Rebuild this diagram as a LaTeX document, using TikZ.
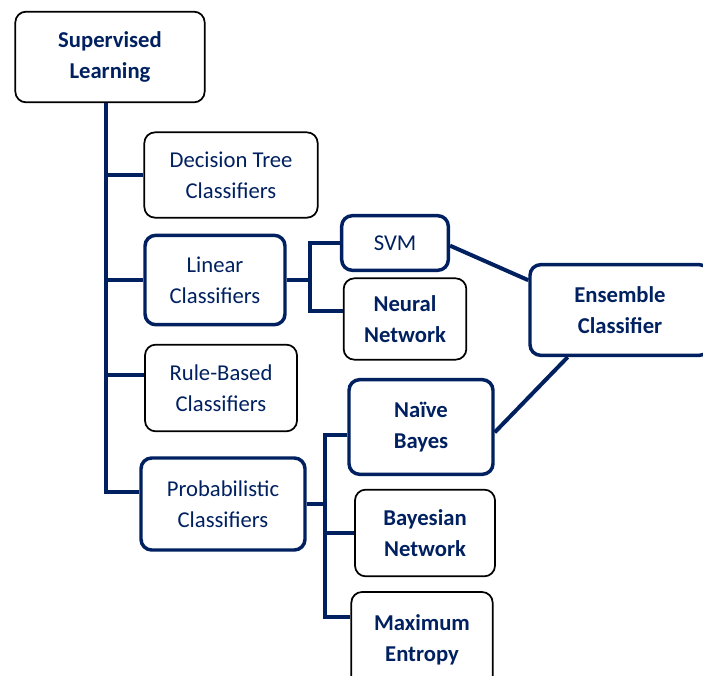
\documentclass[tikz,border=0pt]{standalone}
\usepackage{fontspec}
\setmainfont{Carlito}
\definecolor{navy}{RGB}{0,32,96}
\begin{document}
\begin{tikzpicture}[x=0.75pt, y=-0.75pt,
        box/.style = {rounded corners = 8pt, align = center, text = navy, inner sep = 0pt,
                      font = \fontsize{17}{23}\selectfont},
        strong/.style = {font = \fontsize{17}{23}\selectfont\bfseries},
        thinbox/.style = {box, draw = black, line width = 1.3pt},
        thickbox/.style = {box, draw = navy, line width = 2.6pt},
        link/.style = {draw = navy, line width = 3pt}]
        \useasboundingbox (0,0) rectangle (703,675);
        % root and first level
        \node[thinbox, strong, minimum width = 142pt, minimum height = 68pt] (sup) at (110,57) {Supervised\\Learning};
        \node[thinbox, minimum width = 130pt, minimum height = 64pt] (dtree) at (231,175) {Decision Tree\\Classifiers};
        \node[thickbox, minimum width = 105pt, minimum height = 67pt] (linear) at (215,280) {Linear\\Classifiers};
        \node[thinbox, minimum width = 114pt, minimum height = 65pt] (rule) at (221,388) {Rule-Based\\Classifiers};
        \node[thickbox, minimum width = 123pt, minimum height = 69pt] (prob) at (223,504) {Probabilistic\\Classifiers};
        % second level
        \node[thickbox, minimum width = 80pt, minimum height = 41pt] (svm) at (395,243) {SVM};
        \node[thinbox, strong, minimum width = 92pt, minimum height = 61pt] (nn) at (405,319) {Neural\\Network};
        \node[thickbox, strong, minimum width = 108pt, minimum height = 71pt] (nb) at (421,427) {Naïve\\Bayes};
        \node[thinbox, strong, minimum width = 105pt, minimum height = 65pt] (bn) at (425,533) {Bayesian\\Network};
        \node[thinbox, strong, minimum width = 106pt, minimum height = 72pt] (me) at (422,640) {Maximum\\Entropy};
        \node[thickbox, strong, minimum width = 135pt, minimum height = 68pt] (ens) at (620,310) {Ensemble\\Classifier};
        % trunk
        \coordinate (trunk) at ([xshift = -3pt]sup.south);
        \draw[link] (trunk) |- ([yshift = 9pt]prob.west);
        \draw[link] (dtree.west) -- (dtree.west -| trunk);
        \draw[link] (linear.west) -- (linear.west -| trunk);
        \draw[link] ([yshift = 10pt]rule.west) -- ([yshift = 10pt]rule.west -| trunk);
        % linear branch
        \coordinate (lj) at (310,280);
        \draw[link] (linear.east) -- (lj);
        \draw[link] (svm.west) -| (lj) |- ([yshift = 6pt]nn.west);
        % probabilistic branch
        \coordinate (pj) at (325,504);
        \draw[link] (prob.east) -- (pj);
        \draw[link] ([yshift = -6pt]nb.west) -| (pj) |- ([yshift = 17pt]me.west);
        \draw[link] (bn.west) -- (bn.west -| pj);
        % ensemble
        \draw[link] ([yshift = -2pt]svm.east) -- (ens.162);
        \draw[link] ([yshift = -4pt]nb.east) -- (ens.222);
    \end{tikzpicture}
\end{document}
